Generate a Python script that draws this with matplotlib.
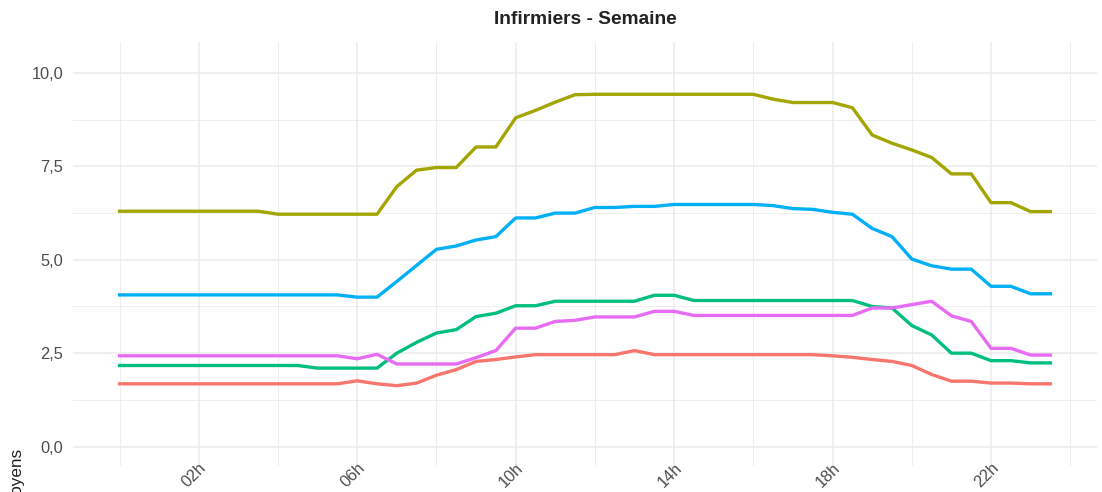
import numpy as np
import matplotlib
matplotlib.use("Agg")
import matplotlib.pyplot as plt
from matplotlib.ticker import FixedLocator, FuncFormatter

plt.rcParams['font.family'] = ['Liberation Sans', 'DejaVu Sans']

hours = np.arange(0, 24, 0.5)

olive = [6.30, 6.30, 6.30, 6.30, 6.30, 6.30, 6.30, 6.30, 6.22, 6.22, 6.22, 6.22,
         6.22, 6.22, 6.96, 7.40, 7.47, 7.47, 8.02, 8.02, 8.80, 9.00, 9.22, 9.42,
         9.43, 9.43, 9.43, 9.43, 9.43, 9.43, 9.43, 9.43, 9.43, 9.30, 9.21, 9.21,
         9.21, 9.07, 8.34, 8.12, 7.94, 7.74, 7.30, 7.30, 6.53, 6.53, 6.29, 6.29]

blue = [4.06, 4.06, 4.06, 4.06, 4.06, 4.06, 4.06, 4.06, 4.06, 4.06, 4.06, 4.06,
        4.00, 4.00, 4.42, 4.85, 5.28, 5.37, 5.53, 5.62, 6.12, 6.12, 6.25, 6.25,
        6.40, 6.40, 6.43, 6.43, 6.48, 6.48, 6.48, 6.48, 6.48, 6.45, 6.37, 6.35,
        6.27, 6.22, 5.84, 5.62, 5.02, 4.84, 4.75, 4.75, 4.29, 4.29, 4.09, 4.09]

green = [2.17, 2.17, 2.17, 2.17, 2.17, 2.17, 2.17, 2.17, 2.17, 2.17, 2.10, 2.10,
         2.10, 2.10, 2.50, 2.79, 3.04, 3.13, 3.48, 3.57, 3.77, 3.77, 3.89, 3.89,
         3.89, 3.89, 3.89, 4.05, 4.05, 3.91, 3.91, 3.91, 3.91, 3.91, 3.91, 3.91,
         3.91, 3.91, 3.75, 3.71, 3.24, 2.99, 2.50, 2.50, 2.30, 2.30, 2.24, 2.24]

pink = [2.43, 2.43, 2.43, 2.43, 2.43, 2.43, 2.43, 2.43, 2.43, 2.43, 2.43, 2.43,
        2.35, 2.47, 2.21, 2.21, 2.21, 2.21, 2.38, 2.57, 3.17, 3.17, 3.35, 3.38,
        3.47, 3.47, 3.47, 3.62, 3.62, 3.51, 3.51, 3.51, 3.51, 3.51, 3.51, 3.51,
        3.51, 3.51, 3.71, 3.71, 3.80, 3.89, 3.50, 3.35, 2.63, 2.63, 2.45, 2.45]

red = [1.68, 1.68, 1.68, 1.68, 1.68, 1.68, 1.68, 1.68, 1.68, 1.68, 1.68, 1.68,
       1.76, 1.68, 1.63, 1.70, 1.91, 2.06, 2.28, 2.33, 2.40, 2.46, 2.46, 2.46,
       2.46, 2.46, 2.57, 2.46, 2.46, 2.46, 2.46, 2.46, 2.46, 2.46, 2.46, 2.46,
       2.43, 2.39, 2.33, 2.28, 2.17, 1.93, 1.75, 1.75, 1.70, 1.70, 1.68, 1.68]

series = [red, olive, green, blue, pink]
colors = ['#F8766D', '#A3A500', '#00BF7D', '#00B0F6', '#E76BF3']

xticks = [2, 6, 10, 14, 18, 22]
xtick_labels = ['02h', '06h', '10h', '14h', '18h', '22h']
xminor = [0, 4, 8, 12, 16, 20, 24]
yticks = [0, 2.5, 5, 7.5, 10]
yminor = [1.25, 3.75, 6.25, 8.75]

W, H = 1102, 492
fig = plt.figure(figsize=(W / 100, H / 100), dpi=100)
left, right, top, bottom = 73, 1097, 42, 466
ax = fig.add_axes([left / W, 1 - bottom / H, (right - left) / W, (bottom - top) / H])

for s, c in zip(series, colors):
    ax.plot(hours, s, color=c, lw=2.4, solid_joinstyle='round', zorder=3)

ax.set_xlim(-1.175, 24.675)
ax.set_ylim(-0.52, 10.83)

ax.xaxis.set_major_locator(FixedLocator(xticks))
ax.xaxis.set_minor_locator(FixedLocator(xminor))
ax.set_xticklabels(xtick_labels)
ax.yaxis.set_major_locator(FixedLocator(yticks))
ax.yaxis.set_minor_locator(FixedLocator(yminor))
ax.yaxis.set_major_formatter(FuncFormatter(lambda v, p: f"{v:.1f}".replace('.', ',')))

ax.grid(which='major', color='#EBEBEB', lw=1.1, zorder=0)
ax.grid(which='minor', color='#EBEBEB', lw=0.6, zorder=0)
for sp in ax.spines.values():
    sp.set_visible(False)
ax.tick_params(which='both', length=0)
ax.tick_params(axis='y', labelsize=11.8, labelcolor='#4D4D4D', pad=7)
ax.tick_params(axis='x', labelsize=11.8, labelcolor='#4D4D4D', pad=-4.3)
for lab in ax.get_xticklabels():
    lab.set_rotation(45)
    lab.set_ha('right')
    lab.set_va('top')
    lab.set_rotation_mode('anchor')

fig.text((left + right) / 2 / W, 1 - 19 / H, 'Infirmiers - Semaine', ha='center', va='center',
         fontsize=13.8, fontweight='bold', color='#222222')
fig.text(16 / W, 1 - 447 / H, 'Moyens', rotation=90, ha='center', va='top',
         fontsize=12.3, color='#222222')

fig.savefig('out.png', dpi=100, facecolor='white')
